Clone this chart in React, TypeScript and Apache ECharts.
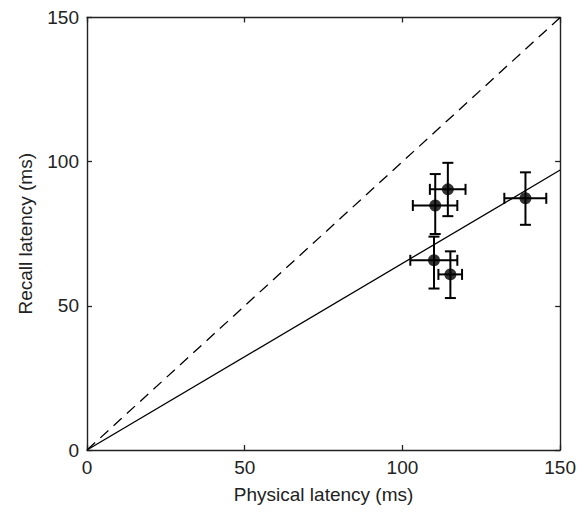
import React, { useEffect, useRef } from "react";
import * as echarts from "echarts";

const physical = [114.4, 110.4, 110.0, 115.2, 139.0];
const recall = [90.4, 84.8, 65.8, 60.9, 87.3];
const physicalLow = [108.7, 103.3, 102.5, 111.4, 132.3];
const physicalHigh = [120.0, 117.4, 117.4, 118.9, 145.6];
const recallLow = [81.1, 74.9, 56.0, 52.7, 78.1];
const recallHigh = [99.6, 95.7, 74.0, 68.9, 96.3];
const fitLine = [[0, 0], [150, 97.1]];
const identityLine = [[0, 0], [150, 150]];
const ticks = [0, 50, 100, 150];

const FONT = "'Liberation Sans', Arial, sans-serif";

export default function App() {
  const ref = useRef<HTMLDivElement>(null);
  useEffect(() => {
    if (!ref.current) return;
    const chart = echarts.init(ref.current, undefined, { renderer: "svg" });
    const errData = physical.map((x, i) => [x, recall[i], physicalLow[i], physicalHigh[i], recallLow[i], recallHigh[i]]);
    const axisLine = { show: true, onZero: false, lineStyle: { color: "#222", width: 1.4 } };
    const axisTick = { show: true, inside: true, length: 5, lineStyle: { color: "#222", width: 1.3 } };
    const label = { color: "#222", fontSize: 19, fontFamily: FONT };
    const base = { type: "value", min: ticks[0], max: ticks[ticks.length - 1], interval: 50, splitLine: { show: false } };
    chart.setOption({
      animation: false,
      backgroundColor: "#fff",
      grid: { left: 77, top: 7, right: 16, bottom: 49 },
      xAxis: [
        {
          ...base,
          position: "bottom",
          axisLine, axisTick,
          axisLabel: { ...label, margin: 8 },
          name: "Physical latency (ms)",
          nameLocation: "middle",
          nameGap: 35,
          nameTextStyle: { color: "#222", fontSize: 19, fontFamily: FONT },
        },
        { ...base, position: "top", axisLine, axisTick, axisLabel: { show: false } },
      ],
      yAxis: [
        {
          ...base,
          position: "left",
          axisLine, axisTick,
          axisLabel: { ...label, margin: 8 },
          name: "Recall latency (ms)",
          nameLocation: "middle",
          nameGap: 52,
          nameTextStyle: { color: "#222", fontSize: 19, fontFamily: FONT },
        },
        { ...base, position: "right", axisLine, axisTick, axisLabel: { show: false } },
      ],
      series: [
        {
          type: "line",
          data: identityLine,
          symbol: "none",
          lineStyle: { color: "#000", width: 1.3, type: [11, 7] },
          silent: true,
        },
        {
          type: "line",
          data: fitLine,
          symbol: "none",
          lineStyle: { color: "#000", width: 1.3 },
          silent: true,
        },
        {
          type: "custom",
          data: errData,
          encode: { x: 0, y: 1 },
          z: 5,
          renderItem: (params: any, api: any) => {
            const x = api.value(0), y = api.value(1);
            const c = api.coord([x, y]);
            const xl = api.coord([api.value(2), y]);
            const xh = api.coord([api.value(3), y]);
            const yl = api.coord([x, api.value(4)]);
            const yh = api.coord([x, api.value(5)]);
            const cap = 5.5;
            const style = { stroke: "#000", lineWidth: 2 };
            const ln = (x1: number, y1: number, x2: number, y2: number) => ({
              type: "line", shape: { x1, y1, x2, y2 }, style,
            });
            return {
              type: "group",
              children: [
                ln(xl[0], c[1], xh[0], c[1]),
                ln(xl[0], c[1] - cap, xl[0], c[1] + cap),
                ln(xh[0], c[1] - cap, xh[0], c[1] + cap),
                ln(c[0], yl[1], c[0], yh[1]),
                ln(c[0] - cap, yl[1], c[0] + cap, yl[1]),
                ln(c[0] - cap, yh[1], c[0] + cap, yh[1]),
              ],
            };
          },
        },
        {
          type: "scatter",
          data: physical.map((x, i) => [x, recall[i]]),
          symbol: "circle",
          symbolSize: 12,
          itemStyle: { color: "#000" },
          z: 6,
        },
      ],
    });
    return () => chart.dispose();
  }, []);
  return <div ref={ref} style={{ width: 571, height: 501 }} />;
}
